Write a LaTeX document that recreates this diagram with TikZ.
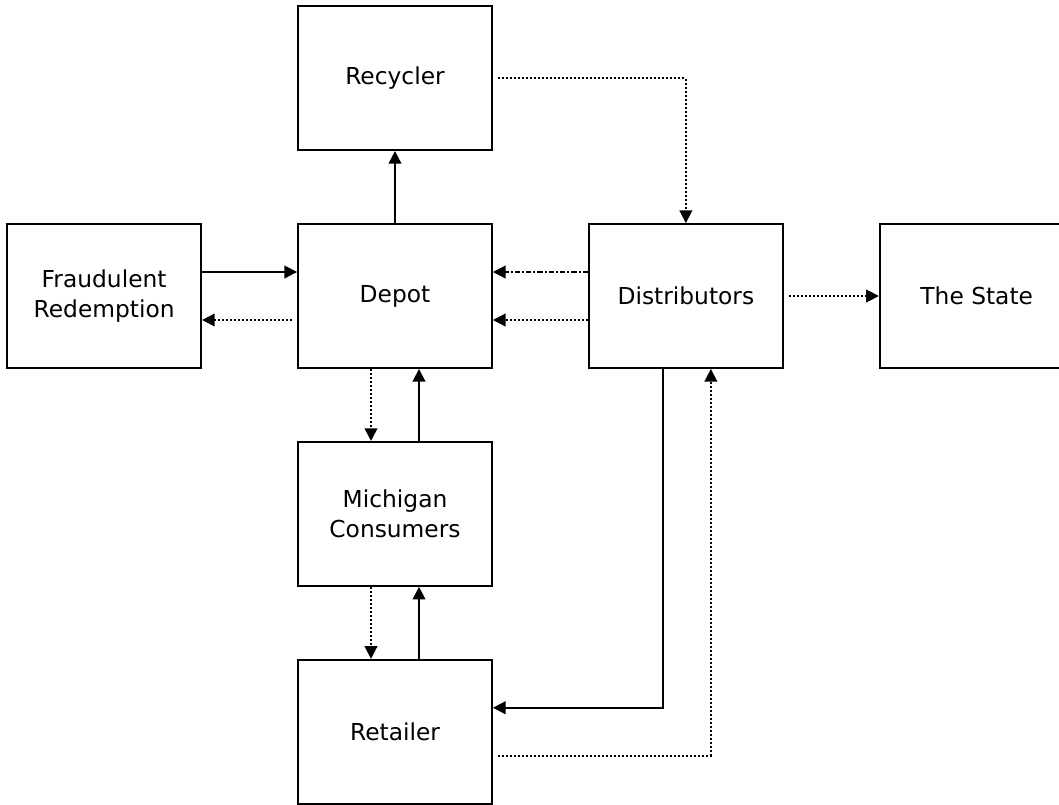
\documentclass[tikz,border=0pt]{standalone}
\usepackage{fontspec}
\setmainfont{DejaVu Sans}
\usetikzlibrary{arrows.meta,positioning}

\begin{document}
\begin{tikzpicture}[
    x=0.75pt, y=-0.75pt,
    node distance=54pt and 71.25pt,
    box/.style={rectangle, draw, line width=1.4pt, minimum width=145.5pt, minimum height=108pt, align=center, font=\fontsize{17.5}{23}\selectfont},
    arrow/.style={-{Triangle[length=9.5pt,width=9.5pt]}, line width=1.4pt},
    dotarrow/.style={arrow, dash pattern=on 1.5pt off 1.5pt},
    dasharrow/.style={arrow, dash pattern=on 4pt off 1.5pt on 1.5pt off 1.5pt}
]
\clip (0,0) rectangle (1059,804);
\fill[white] (0,0) rectangle (1059,804);

\node[box] (depot) at (395,296) {Depot};
\node[box, above=of depot] (recycler) {Recycler};
\node[box, left=of depot] (fraud) {Fraudulent\\Redemption};
\node[box, right=of depot] (distributors) {Distributors};
\node[box, right=of distributors] (state) {The State};
\node[box, below=of depot] (consumers) {Michigan\\Consumers};
\node[box, below=of consumers] (retailer) {Retailer};

\draw[arrow] (depot) -- (recycler);
\draw[dotarrow] ([xshift=4pt]recycler.east) -| (distributors.north);
\draw[arrow] ([yshift=18pt]fraud.east) -- ([yshift=18pt]depot.west);
\draw[dotarrow] ([xshift=-4pt,yshift=-18pt]depot.west) -- ([yshift=-18pt]fraud.east);
\draw[dasharrow] ([yshift=18pt]distributors.west) -- ([yshift=18pt]depot.east);
\draw[dotarrow] ([yshift=-18pt]distributors.west) -- ([yshift=-18pt]depot.east);
\draw[dotarrow] ([xshift=4pt]distributors.east) -- (state.west);
\draw[dotarrow] ([xshift=-18pt]depot.south) -- ([xshift=-18pt]consumers.north);
\draw[arrow] ([xshift=18pt]consumers.north) -- ([xshift=18pt]depot.south);
\draw[dotarrow] ([xshift=-18pt]consumers.south) -- ([xshift=-18pt]retailer.north);
\draw[arrow] ([xshift=18pt]retailer.north) -- ([xshift=18pt]consumers.south);
\draw[arrow] ([xshift=-17.25pt]distributors.south) |- ([yshift=18pt]retailer.east);
\draw[dotarrow] ([xshift=4pt,yshift=-18pt]retailer.east) -| ([xshift=18.75pt]distributors.south);
\end{tikzpicture}
\end{document}
